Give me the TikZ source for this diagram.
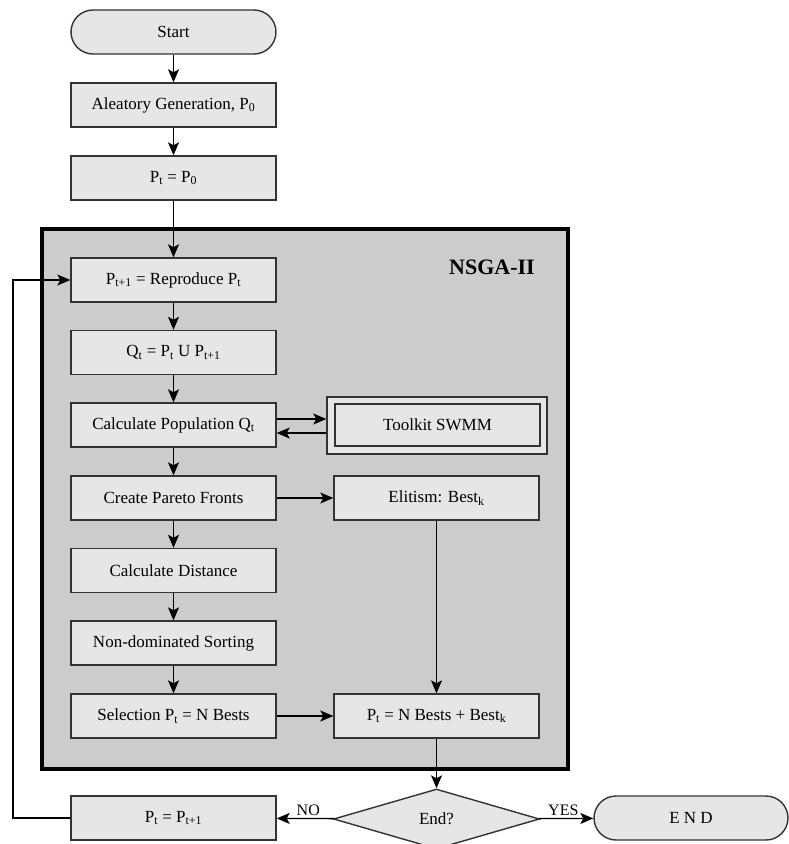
\documentclass[tikz,border=0pt]{standalone}
\usepackage{fontspec}
\setmainfont{Liberation Serif}
\usetikzlibrary{arrows.meta,shapes.geometric}
\definecolor{boxfill}{HTML}{E6E6E6}
\definecolor{boxline}{HTML}{333333}
\definecolor{bigfill}{HTML}{CCCCCC}
\tikzset{
  stepbox/.style={draw=boxline, fill=boxfill, line width=1.4pt, minimum width=205pt, minimum height=44pt, inner sep=0pt, font=\fontsize{17}{20}\selectfont},
  termbox/.style={stepbox, rounded corners=22pt},
  arr/.style={-{Stealth[length=13pt,width=11pt,inset=3pt]}, line width=1.3pt, black},
  lbl/.style={font=\fontsize{16}{18}\selectfont, inner sep=2pt}
}
\begin{document}
\begin{tikzpicture}[x=1pt,y=-1pt]
\useasboundingbox (0,0) rectangle (789,844);
% big NSGA-II frame
\draw[line width=4.5pt, fill=bigfill] (42,229) rectangle (568,769);
\node[font=\fontsize{22}{25}\selectfont\bfseries] (title) at (492,267) {NSGA-II};

\node[termbox] (start) at (173.5,32) {Start};
\node[stepbox] (gen) at (173.5,105) {Aleatory Generation, P\textsubscript{0}};
\node[stepbox] (p0) at (173.5,178) {P\textsubscript{t} = P\textsubscript{0}};
\node[stepbox] (rep) at (173.5,280) {P\textsubscript{t+1} = Reproduce P\textsubscript{t}};
\node[stepbox] (qt) at (173.5,352.5) {Q\textsubscript{t} = P\textsubscript{t} U P\textsubscript{t+1}};
\node[stepbox] (cp) at (173.5,425) {Calculate Population Q\textsubscript{t}};
\node[stepbox, minimum width=220pt, minimum height=57pt] (swo) at (437,425.5) {};
\node[stepbox, minimum height=42pt] (sw) at (437.5,425) {Toolkit SWMM};
\node[stepbox] (pf) at (173.5,498) {Create Pareto Fronts};
\node[stepbox] (el) at (436.5,498) {Elitism: Best\textsubscript{k}};
\node[stepbox] (cd) at (173.5,570.5) {Calculate Distance};
\node[stepbox] (nd) at (173.5,643) {Non-dominated Sorting};
\node[stepbox] (sel) at (173.5,716) {Selection P\textsubscript{t} = N Bests};
\node[stepbox] (nb) at (436.5,716) {P\textsubscript{t} = N Bests + Best\textsubscript{k}};
\node[diamond, draw=boxline, fill=boxfill, line width=1.4pt, minimum width=206pt, minimum height=60pt, inner sep=0pt, font=\fontsize{17}{20}\selectfont] (end) at (436.5,819) {End?};
\node[stepbox] (upd) at (173.5,818) {P\textsubscript{t} = P\textsubscript{t+1}};
\node[termbox, minimum width=194pt] (fin) at (691,818) {E N D};

\draw[arr] (start) -- (gen);
\draw[arr] (gen) -- (p0);
\draw[arr] (p0) -- (rep);
\draw[arr] (rep) -- (qt);
\draw[arr] (qt) -- (cp);
\draw[arr] ([yshift=6pt]cp.east) -- ([yshift=6pt]cp.east -| swo.west);
\draw[arr] ([yshift=-8pt]cp.east -| swo.west) -- ([yshift=-8pt]cp.east);
\draw[arr] (cp) -- (pf);
\draw[arr] (pf) -- (el);
\draw[arr] (pf) -- (cd);
\draw[arr] (cd) -- (nd);
\draw[arr] (nd) -- (sel);
\draw[arr] (sel) -- (nb);
\draw[arr] (el) -- (nb);
\draw[arr] (nb) -- (end);
\draw[arr] (end) -- node[lbl, above, pos=0.45] {NO} (upd);
\draw[arr] (end) -- node[lbl, above, pos=0.45] {YES} (fin);
\coordinate (loopA) at (13,818);
\coordinate (loopB) at (13,280);
\draw[arr] (upd.west) -- (loopA) -- (loopB) -- (rep.west);
\end{tikzpicture}
\end{document}
